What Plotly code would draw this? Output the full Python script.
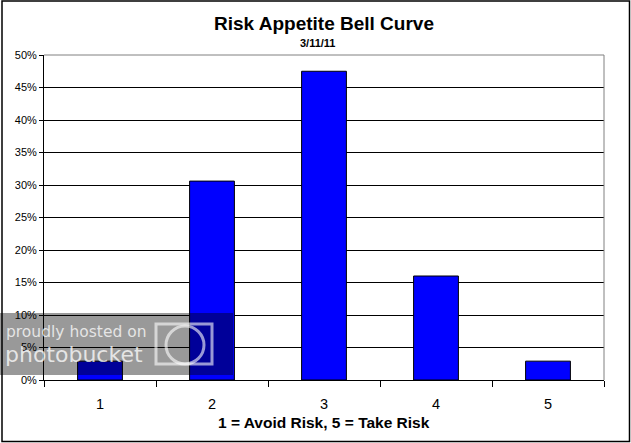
import plotly.graph_objects as go

categories = ["1", "2", "3", "4", "5"]
shares = [0.029, 0.306, 0.475, 0.160, 0.029]
y_ticks = [0, 0.05, 0.10, 0.15, 0.20, 0.25, 0.30, 0.35, 0.40, 0.45, 0.50]

W, H = 631, 443
L, R, T, B = 44, 27, 55, 63
PW, PH = W - L - R, H - T - B

def px(xp):
    return (xp - L) / PW

def py(yp):
    return (H - B - yp) / PH

FONT = "Liberation Sans, Arial, sans-serif"

fig = go.Figure()
fig.add_trace(go.Bar(
    x=categories, y=shares, width=0.4,
    marker=dict(color="#0000FF", line=dict(color="black", width=1)),
    hoverinfo="skip",
))

shapes = [
    dict(type="line", xref="paper", yref="paper", x0=0, x1=1, y0=1, y1=1,
         line=dict(color="#808080", width=1), layer="above"),
    dict(type="line", xref="paper", yref="paper", x0=1, x1=1, y0=0, y1=1,
         line=dict(color="#808080", width=1), layer="above"),
    dict(type="rect", xref="paper", yref="paper",
         x0=px(2), x1=px(629.5), y0=py(1), y1=py(441.5),
         line=dict(color="black", width=1.5), layer="above"),
    dict(type="rect", xref="paper", yref="paper",
         x0=px(-6), x1=px(233), y0=py(313), y1=py(375),
         fillcolor="rgba(0,0,0,0.4)", line=dict(width=0), layer="above"),
    dict(type="rect", xref="paper", yref="paper",
         x0=px(156), x1=px(212), y0=py(324), y1=py(364),
         line=dict(color="rgba(255,255,255,0.6)", width=3), layer="above"),
    dict(type="circle", xref="paper", yref="paper",
         x0=px(166), x1=px(204), y0=py(326), y1=py(364),
         line=dict(color="rgba(255,255,255,0.6)", width=3), layer="above"),
]

annotations = [
    dict(text="<b>Risk Appetite Bell Curve</b>", xref="paper", yref="paper",
         x=0.5, y=py(23), xanchor="center", yanchor="middle", showarrow=False,
         font=dict(family=FONT, size=19, color="black")),
    dict(text="<b>3/11/11</b>", xref="paper", yref="paper",
         x=0.49, y=py(43), xanchor="center", yanchor="middle", showarrow=False,
         font=dict(family=FONT, size=11, color="black")),
    dict(text="<b>1 = Avoid Risk, 5 = Take Risk</b>", xref="paper", yref="paper",
         x=0.5, y=py(422), xanchor="center", yanchor="middle", showarrow=False,
         font=dict(family=FONT, size=15.5, color="black")),
    dict(text="proudly hosted on", xref="paper", yref="paper",
         x=px(4), y=py(332), xanchor="left", yanchor="middle", showarrow=False,
         font=dict(family="DejaVu Sans, sans-serif", size=15.5, color="rgba(255,255,255,0.75)")),
    dict(text="photobucket", xref="paper", yref="paper",
         x=px(3), y=py(354), xanchor="left", yanchor="middle", showarrow=False,
         font=dict(family="DejaVu Sans, sans-serif", size=22, color="rgba(255,255,255,0.75)")),
]

fig.update_layout(
    width=W, height=H, autosize=False,
    margin=dict(l=L, r=R, t=T, b=B, pad=0),
    paper_bgcolor="white", plot_bgcolor="white",
    showlegend=False, bargap=0.6,
    font=dict(family=FONT, color="black"),
    shapes=shapes, annotations=annotations,
    xaxis=dict(
        type="category", tickson="boundaries", ticks="outside", ticklen=6,
        tickcolor="black", tickwidth=1, showline=True, linecolor="black", linewidth=1,
        showgrid=False, tickfont=dict(family=FONT, size=14.5, color="black"),
        ticklabelstandoff=11,
        range=[-0.5, 4.5], fixedrange=True,
    ),
    yaxis=dict(
        range=[0, 0.5], tickvals=y_ticks, tickformat=".0%", ticks="outside", ticklen=4,
        tickcolor="black", showline=True, linecolor="black", linewidth=1,
        showgrid=True, gridcolor="black", gridwidth=1, zeroline=False,
        tickfont=dict(family=FONT, size=11, color="black"), fixedrange=True,
    ),
)

fig.write_html("out.html", config={"staticPlot": True},
               post_script="document.body.style.margin='0';document.body.style.padding='0';")
